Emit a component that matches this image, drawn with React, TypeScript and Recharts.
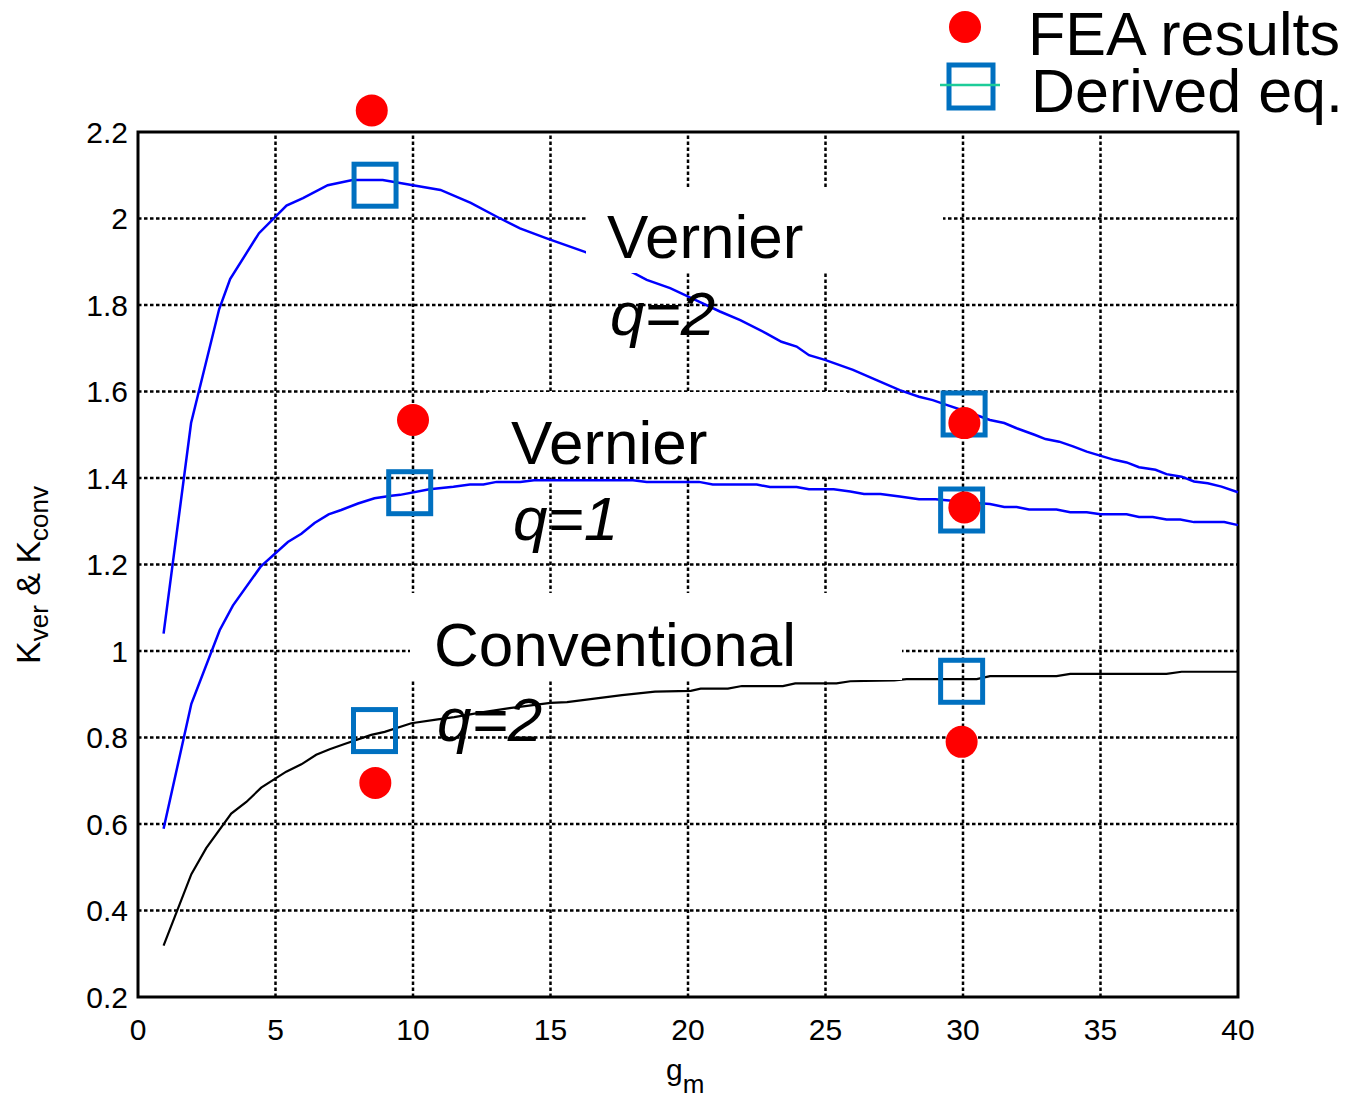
import React from 'react';
import {
  ComposedChart,
  Line,
  Scatter,
  XAxis,
  YAxis,
  ReferenceLine,
  ReferenceArea,
  Legend,
} from 'recharts';

const FONT = '"Liberation Sans", Arial, Helvetica, sans-serif';

// Vernier q=2 (upper blue curve)
const ver2Gm = [0.93, 1.93, 2.95, 3.35, 4.4, 5.4, 6.0, 6.9, 7.8, 8.9, 10.0, 11.0, 12.1, 13.05, 13.89, 14.86, 16.25, 17.1, 18.0, 18.5, 19.35, 20.4, 21.16, 21.9, 22.86, 23.4, 23.95, 24.4, 24.98, 26.0, 26.9, 27.7, 28.4, 28.9, 29.4, 30.2, 30.98, 31.5, 31.95, 32.6, 33.0, 33.5, 34.0, 34.5, 35.5, 35.95, 36.4, 37.0, 37.4, 37.95, 38.4, 38.9, 39.4, 40];
const ver2K = [1.04, 1.527, 1.79, 1.86, 1.966, 2.03, 2.047, 2.077, 2.089, 2.089, 2.077, 2.066, 2.036, 2.004, 1.977, 1.954, 1.923, 1.9, 1.875, 1.858, 1.839, 1.808, 1.785, 1.765, 1.734, 1.715, 1.704, 1.684, 1.673, 1.65, 1.625, 1.603, 1.588, 1.58, 1.569, 1.552, 1.534, 1.527, 1.515, 1.5, 1.49, 1.484, 1.473, 1.461, 1.442, 1.436, 1.425, 1.419, 1.409, 1.403, 1.392, 1.388, 1.38, 1.367];

// Vernier q=1 (middle blue curve)
const ver1Gm = [0.93, 1.94, 2.97, 3.45, 4.46, 5.45, 5.94, 6.42, 6.93, 7.39, 8.0, 8.6, 9.21, 9.53, 10.6, 11.47, 12.07, 12.56, 13.04, 13.9, 14.4, 18.0, 18.5, 20.4, 20.9, 22.5, 22.98, 23.95, 24.4, 25.3, 25.9, 26.4, 27.0, 27.7, 28.4, 29.0, 30.5, 30.98, 31.5, 31.95, 32.4, 33.4, 33.9, 34.5, 35.0, 35.95, 36.4, 36.9, 37.4, 37.9, 38.4, 39.5, 40];
const ver1K = [0.589, 0.878, 1.048, 1.105, 1.195, 1.252, 1.271, 1.296, 1.316, 1.326, 1.341, 1.353, 1.359, 1.361, 1.374, 1.38, 1.385, 1.385, 1.391, 1.391, 1.395, 1.395, 1.391, 1.391, 1.385, 1.385, 1.379, 1.379, 1.374, 1.374, 1.369, 1.363, 1.363, 1.357, 1.351, 1.351, 1.342, 1.34, 1.333, 1.333, 1.327, 1.327, 1.321, 1.321, 1.316, 1.316, 1.31, 1.31, 1.304, 1.304, 1.298, 1.298, 1.291];

// Conventional q=2 (black curve)
const convGm = [0.93, 1.94, 2.48, 3.39, 3.94, 4.48, 5.39, 5.94, 6.48, 6.97, 7.51, 8.48, 8.97, 9.94, 10.9, 11.5, 12.5, 13.51, 15.0, 15.6, 16.6, 17.6, 18.8, 20.1, 20.46, 21.45, 21.96, 23.45, 23.9, 25.4, 25.9, 27.5, 27.95, 30.5, 30.98, 33.4, 33.9, 37.4, 37.95, 40];
const convK = [0.319, 0.484, 0.544, 0.624, 0.651, 0.684, 0.721, 0.738, 0.76, 0.773, 0.785, 0.806, 0.813, 0.833, 0.842, 0.847, 0.858, 0.868, 0.88, 0.882, 0.89, 0.898, 0.906, 0.908, 0.913, 0.913, 0.919, 0.919, 0.925, 0.925, 0.93, 0.932, 0.935, 0.935, 0.942, 0.942, 0.947, 0.947, 0.952, 0.952];

// FEA results (red dots)
const feaGm = [8.5, 10.0, 8.63, 30.05, 30.05, 29.95];
const feaK = [2.25, 1.534, 0.695, 1.527, 1.332, 0.79];

// Derived eq. (open squares)
const derivedGm = [8.62, 9.88, 8.6, 30.04, 29.95, 29.95];
const derivedK = [2.077, 1.366, 0.816, 1.548, 1.326, 0.93];

const xTicks = [0, 5, 10, 15, 20, 25, 30, 35, 40];
const yTicks = [0.2, 0.4, 0.6, 0.8, 1, 1.2, 1.4, 1.6, 1.8, 2, 2.2];
const vGridX = [5, 10, 15, 20, 25, 30, 35];
const hGridY = [0.4, 0.6, 0.8, 1, 1.2, 1.4, 1.6, 1.8, 2];

const zip = (gm: number[], k: number[]) => gm.map((g, i) => ({ gm: g, k: k[i] }));

const ver2Data = zip(ver2Gm, ver2K);
const ver1Data = zip(ver1Gm, ver1K);
const convData = zip(convGm, convK);
const feaData = zip(feaGm, feaK);
const derivedData = zip(derivedGm, derivedK);

const RedDot = (p: any) => <circle cx={p.cx} cy={p.cy} r={16} fill="#ff0000" />;
const OpenSquare = (p: any) => (
  <rect x={p.cx - 21} y={p.cy - 21} width={42} height={42} fill="none" stroke="#0070c0" strokeWidth={5} />
);

const renderLegend = () => (
  <svg width={429} height={130} style={{ display: 'block' }}>
    <circle cx={35} cy={27} r={16} fill="#ff0000" />
    <rect x={19} y={65} width={44} height={43} fill="none" stroke="#0070c0" strokeWidth={5} />
    <line x1={10} x2={70} y1={85} y2={85} stroke="#1dcc99" strokeWidth={2.5} />
    <text x={98} y={55} fontSize={61} fontFamily={FONT} fill="#000">FEA results</text>
    <text x={101} y={112} fontSize={61} fontFamily={FONT} fill="#000">Derived eq.</text>
  </svg>
);

const yLabel = () => (
  <text transform="translate(40,575) rotate(-90)" textAnchor="middle" fontFamily={FONT} fontSize={34} fill="#000">
    <tspan>K</tspan>
    <tspan fontSize={26} dy={8}>ver</tspan>
    <tspan dy={-8}>{'\u00a0&\u00a0K'}</tspan>
    <tspan fontSize={26} dy={8}>conv</tspan>
  </text>
);

const xLabel = () => (
  <text x={666} y={1080} fontFamily={FONT} fontSize={30} fill="#000">
    <tspan>g</tspan>
    <tspan fontSize={26} dy={13}>m</tspan>
  </text>
);

const tickStyle = { fontSize: 30, fill: '#000', fontFamily: FONT };
const gridProps = { stroke: '#000', strokeWidth: 2.5, strokeDasharray: '3.5 2.5' };

export default function App() {
  return (
    <div style={{ position: 'absolute', left: 0, top: 0, width: 1359, height: 1100, background: '#fff' }}>
      <ComposedChart width={1359} height={1100} margin={{ top: 88.75, right: 121, bottom: 43, left: 38 }}>
        <XAxis
          type="number"
          dataKey="gm"
          domain={[0, 40]}
          ticks={xTicks}
          axisLine={false}
          tickLine={false}
          tickSize={0}
          tickMargin={22}
          height={60}
          tick={tickStyle}
          label={xLabel}
        />
        <YAxis
          type="number"
          domain={[0.2, 2.3]}
          ticks={yTicks}
          axisLine={false}
          tickLine={false}
          tickSize={0}
          tickMargin={10}
          width={100}
          tick={tickStyle}
          label={yLabel}
        />
        {hGridY.map((y) => (
          <ReferenceLine key={`h${y}`} segment={[{ x: 0, y }, { x: 40, y }]} {...gridProps} />
        ))}
        {vGridX.map((x) => (
          <ReferenceLine key={`v${x}`} segment={[{ x, y: 0.2 }, { x, y: 2.2 }]} {...gridProps} />
        ))}
        <ReferenceArea x1={0} x2={40} y1={0.2} y2={2.2} fill="none" fillOpacity={0} stroke="#000" strokeWidth={3} />
        <Line data={ver2Data} dataKey="k" type="linear" stroke="#0000ff" strokeWidth={2.5} dot={false} activeDot={false} isAnimationActive={false} />
        <Line data={ver1Data} dataKey="k" type="linear" stroke="#0000ff" strokeWidth={2.5} dot={false} activeDot={false} isAnimationActive={false} />
        <Line data={convData} dataKey="k" type="linear" stroke="#000000" strokeWidth={2.2} dot={false} activeDot={false} isAnimationActive={false} />
        <Scatter data={derivedData} dataKey="k" shape={OpenSquare} isAnimationActive={false} />
        <Scatter data={feaData} dataKey="k" shape={RedDot} isAnimationActive={false} />
        <Legend
          layout="vertical"
          align="center"
          verticalAlign="middle"
          content={renderLegend}
          wrapperStyle={{ left: 930, top: 0, width: 429, height: 130 }}
        />
      </ComposedChart>
      <svg width={1359} height={1100} style={{ position: 'absolute', left: 0, top: 0, pointerEvents: 'none' }}>
        <rect x={586} y={187} width={357} height={86} fill="#fff" />
        <text x={607} y={258} fontSize={62} fontFamily={FONT} fill="#000">Vernier</text>
        <text x={610} y={335} fontSize={62} fontFamily={FONT} fontStyle="italic" fill="#000">q=2</text>
        <rect x={488} y={392} width={359} height={84} fill="#fff" />
        <text x={511} y={464} fontSize={62} fontFamily={FONT} fill="#000">Vernier</text>
        <text x={513} y={540} fontSize={62} fontFamily={FONT} fontStyle="italic" fill="#000">q=1</text>
        <rect x={410} y={593} width={492} height={87} fill="#fff" />
        <text x={434} y={666} fontSize={62} fontFamily={FONT} fill="#000">Conventional</text>
        <text x={437} y={741} fontSize={62} fontFamily={FONT} fontStyle="italic" fill="#000">q=2</text>
      </svg>
    </div>
  );
}
